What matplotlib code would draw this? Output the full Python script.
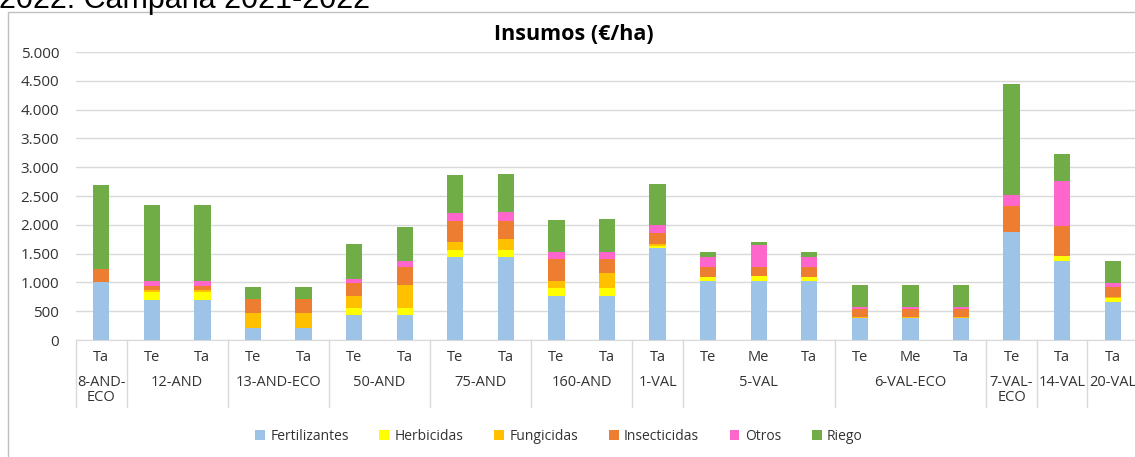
import matplotlib
matplotlib.use('Agg')
import matplotlib.pyplot as plt
import matplotlib.patches as mpatches
import matplotlib.transforms as mtransforms
from matplotlib.ticker import FuncFormatter
import numpy as np

plt.rcParams['font.family'] = ['Open Sans', 'DejaVu Sans']

# data (€/ha)
subs = ['Ta', 'Te', 'Ta', 'Te', 'Ta', 'Te', 'Ta', 'Te', 'Ta', 'Te', 'Ta',
        'Ta', 'Te', 'Me', 'Ta', 'Te', 'Me', 'Ta', 'Te', 'Ta', 'Ta']
groups = ['8-AND-\nECO', '12-AND', '13-AND-ECO', '50-AND', '75-AND', '160-AND',
          '1-VAL', '5-VAL', '6-VAL-ECO', '7-VAL-\nECO', '14-VAL', '20-VAL']
group_sizes = [1, 2, 2, 2, 2, 2, 1, 3, 3, 1, 1, 1]

fertilizantes = [1010, 695, 695, 215, 215, 435, 435, 1435, 1435, 770, 770,
                 1590, 1025, 1025, 1025, 375, 375, 375, 1880, 1365, 655]
herbicidas = [0, 135, 135, 0, 0, 125, 125, 125, 125, 135, 135,
              35, 75, 85, 75, 0, 0, 0, 0, 90, 75]
fungicidas = [0, 40, 40, 255, 255, 210, 400, 135, 190, 120, 250,
              40, 0, 0, 0, 30, 30, 30, 0, 0, 25]
insecticidas = [220, 75, 75, 250, 250, 215, 300, 370, 315, 375, 250,
                200, 165, 160, 165, 130, 130, 130, 450, 525, 170]
otros = [0, 75, 75, 0, 0, 80, 110, 135, 155, 120, 120,
         130, 175, 380, 175, 40, 40, 40, 190, 780, 70]
riego = [1460, 1320, 1320, 195, 195, 600, 595, 660, 660, 570, 570,
         710, 85, 45, 85, 375, 375, 375, 1920, 465, 375]

series = [('Fertilizantes', fertilizantes, '#9DC3E6'),
          ('Herbicidas', herbicidas, '#FFFF00'),
          ('Fungicidas', fungicidas, '#FFC000'),
          ('Insecticidas', insecticidas, '#ED7D31'),
          ('Otros', otros, '#FF66CC'),
          ('Riego', riego, '#70AD47')]

txtColor = '#333333'

W, H = 1135, 457
fig = plt.figure(figsize=(W / 100, H / 100), dpi=100)

# caption cut off at the top of the picture
fig.text(-0.001, 1 - 8 / H, '2022. Campaña 2021-2022', fontsize=22,
         family='Liberation Sans', va='baseline', ha='left', color='#000000')

# chart frame
fig.patches.append(mpatches.Rectangle((8 / W, -0.05), 1.2, 1 - 12 / H + 0.05,
                                      transform=fig.transFigure, fill=False,
                                      edgecolor='#BFBFBF', linewidth=1.0))

ax = fig.add_axes([76 / W, 1 - 340 / H, 1062 / W, 288 / H])

x = np.arange(len(subs))
bottom = np.zeros(len(subs))
for name, vals, col in series:
    ax.bar(x, vals, 0.32, bottom=bottom, color=col, label=name, zorder=3)
    bottom += np.array(vals)

ax.set_xlim(-0.5, len(subs) - 0.5)
ax.set_ylim(0, 5000)
ax.set_yticks(np.arange(0, 5001, 500))
ax.yaxis.set_major_formatter(FuncFormatter(lambda v, p: f'{int(v):,}'.replace(',', '.')))
ax.tick_params(axis='y', length=0, pad=12, labelsize=11, colors=txtColor)
ax.grid(axis='y', color='#D9D9D9', linewidth=1.0, zorder=0)
for s in ['top', 'right', 'left']:
    ax.spines[s].set_visible(False)
ax.spines['bottom'].set_color('#D9D9D9')

# two level category axis
ax.set_xticks([])
trans = mtransforms.blended_transform_factory(ax.transData, ax.transAxes)
for i, s in enumerate(subs):
    ax.text(i, -0.033, s, transform=trans, ha='center', va='top',
            fontsize=10.5, color=txtColor)
bounds = np.concatenate([[0], np.cumsum(group_sizes)]) - 0.5
for k, g in enumerate(groups):
    mid = (bounds[k] + bounds[k + 1]) / 2
    ax.text(mid, -0.12, g, transform=trans, ha='center', va='top',
            fontsize=10.5, color=txtColor, linespacing=1.05)
for b in bounds:
    ax.plot([b, b], [0, -0.233], transform=trans, color='#D9D9D9',
            linewidth=1.0, clip_on=False)

fig.text(574 / W, 1 - 35 / H, 'Insumos (€/ha)', ha='center', va='center',
         fontsize=15.5, fontweight='bold', color='#000000')

fig.legend(loc='center', bbox_to_anchor=(559 / W, 1 - 436 / H), ncol=6,
           frameon=False, fontsize=10, handlelength=0.7, handleheight=0.7,
           columnspacing=2.2, handletextpad=0.4, labelcolor=txtColor)

fig.savefig('out.png', dpi=100)
